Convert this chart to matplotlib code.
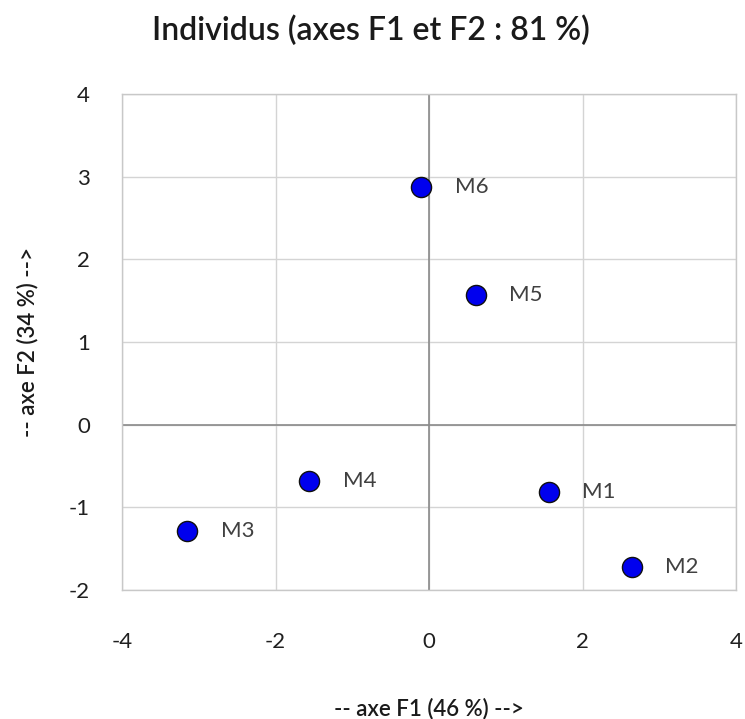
import matplotlib
matplotlib.use("Agg")
import matplotlib.pyplot as plt

# Coordinates of the individuals on the first factorial plane
names = ["M1", "M2", "M3", "M4", "M5", "M6"]
f1 = [1.56, 2.64, -3.15, -1.56, 0.61, -0.10]
f2 = [-0.82, -1.72, -1.29, -0.68, 1.57, 2.88]

x_ticks = [-4, -2, 0, 2, 4]
y_ticks = [-2, -1, 0, 1, 2, 3, 4]

plt.rcParams["font.family"] = ["Lato", "DejaVu Sans"]
plt.rcParams["axes.unicode_minus"] = False

fig = plt.figure(figsize=(7.45, 7.19), dpi=100)
ax = fig.add_axes([0.1638, 0.1794, 0.8242, 0.6899])

ax.set_xlim(-4, 4)
ax.set_ylim(-2, 4)
ax.set_xticks(x_ticks)
ax.set_yticks(y_ticks)
ax.grid(True, color="#d4d4d4", linewidth=1.0)
ax.set_axisbelow(True)
for s in ax.spines.values():
    s.set_color("#c8c8c8")
    s.set_linewidth(1.0)

# Origin axes
ax.axhline(0, color="#8a8a8a", linewidth=1.2, zorder=1)
ax.axvline(0, color="#8a8a8a", linewidth=1.2, zorder=1)

ax.tick_params(length=0, labelsize=16, labelcolor="#202020")
ax.tick_params(axis="x", pad=30)
ax.tick_params(axis="y", pad=23)

ax.scatter(f1, f2, s=210, color="#0000ee", edgecolors="#101010",
           linewidths=1.0, zorder=3)
for n, x, y in zip(names, f1, f2):
    ax.annotate(n, (x, y), xytext=(24, 0), textcoords="offset points",
                ha="left", va="center", fontsize=16, color="#404040")

fig.text(0.498, 0.958, "Individus (axes F1 et F2 : 81 %)", ha="center",
         va="center", fontsize=23, fontweight="semibold", color="#1a1a1a")
ax.set_xlabel("-- axe F1 (46 %) -->", fontsize=16, fontweight="semibold",
              color="#1a1a1a", labelpad=33)
ax.set_ylabel("-- axe F2 (34 %) -->", fontsize=16, fontweight="semibold",
              color="#1a1a1a", labelpad=22)

fig.savefig("out.png", dpi=100)
